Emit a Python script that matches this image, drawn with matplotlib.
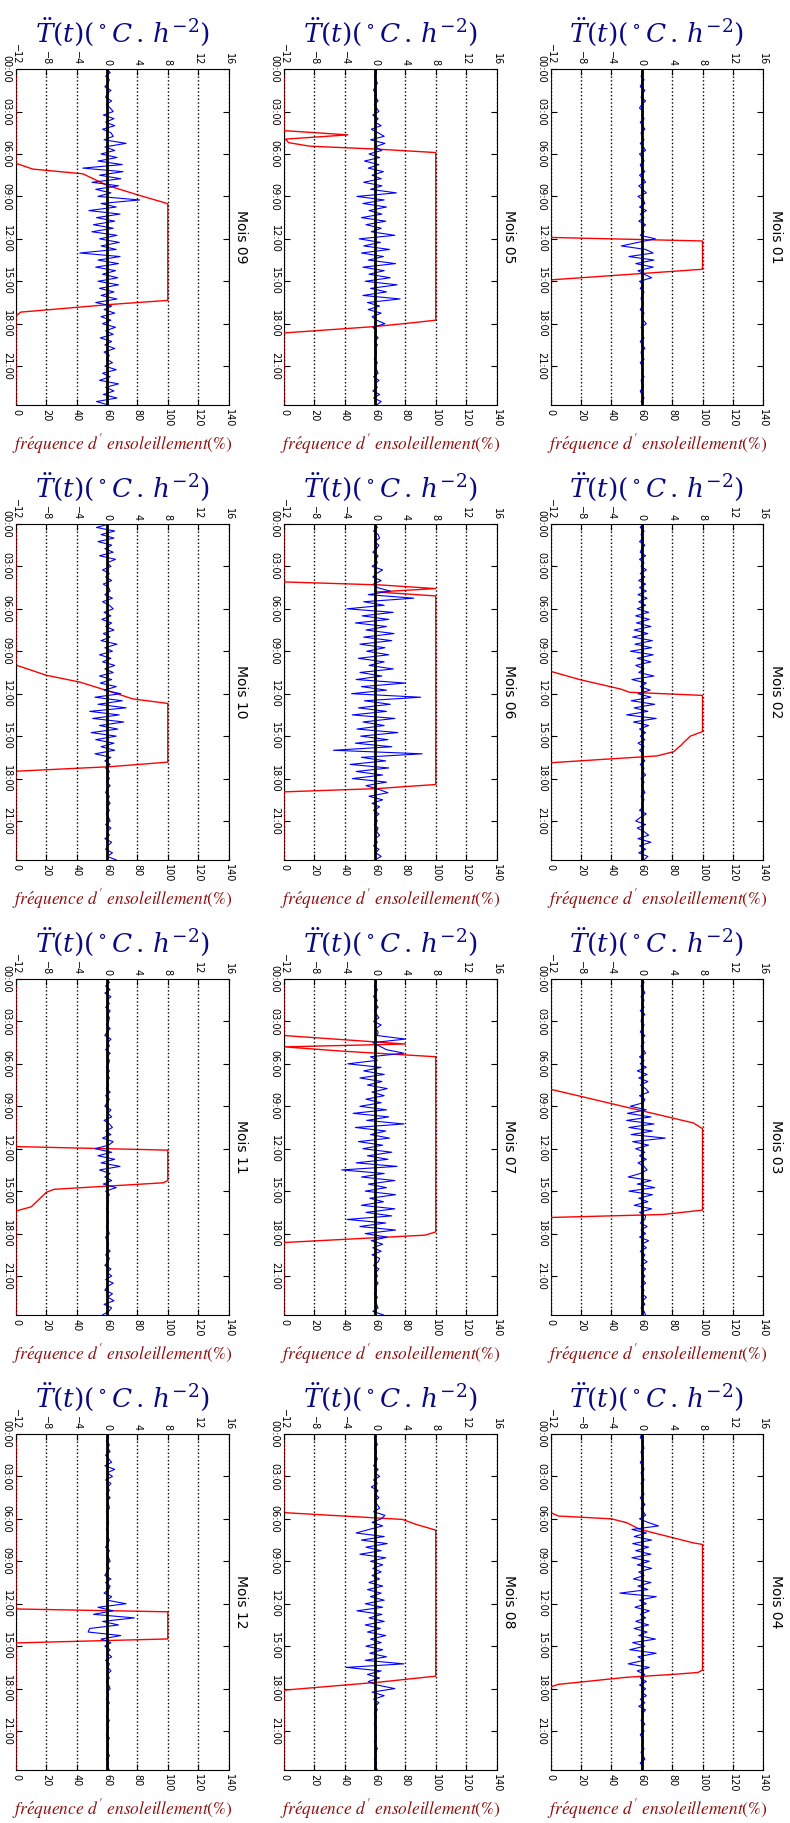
import matplotlib
matplotlib.use('Agg')
import matplotlib.pyplot as plt
import numpy as np

plt.rcParams['mathtext.fontset'] = 'dejavuserif'

T_END = 23.75
MONTHS = ['01', '02', '03', '04', '05', '06', '07', '08', '09', '10', '11', '12']
HOUR_TICKS = [0, 3, 6, 9, 12, 15, 18, 21]
HOUR_LABELS = ['00:00', '03:00', '06:00', '09:00', '12:00', '15:00', '18:00', '21:00']
FREQ_TICKS = [0, 20, 40, 60, 80, 100, 120, 140]
TDD_TICKS = [-12, -8, -4, 0, 4, 8, 12, 16]

# sunshine frequency (%), breakpoints (hour, value)
red_t_01 = [0, 11.9, 12.15, 14.15, 14.9, 23.75]
red_v_01 = [0, 0, 100, 100, 0, 0]
red_t_02 = [0, 10.42, 11.0, 11.67, 11.9, 12.12, 14.68, 15.0, 15.4, 15.63, 16.1, 16.4, 16.88, 23.75]
red_v_02 = [0, 0, 19, 46, 52, 100, 100, 92, 88, 86, 81, 70, 0, 0]
red_t_03 = [0, 7.8, 10.18, 10.58, 16.34, 16.65, 16.86, 23.75]
red_v_03 = [0, 0, 94, 100, 100, 74, 0, 0]
red_t_04 = [0, 5.56, 5.8, 6.0, 6.27, 6.75, 7.7, 7.81, 16.69, 16.86, 17.0, 17.2, 17.7, 17.88, 23.75]
red_v_04 = [0, 0, 5, 40, 50, 59, 94, 100, 100, 97, 80, 50, 5, 0, 0]
red_t_05 = [0, 4.35, 4.65, 4.95, 5.2, 5.45, 5.65, 5.9, 17.75, 17.95, 18.2, 18.65, 23.75]
red_v_05 = [0, 0, 42, 1, 3, 17, 60, 100, 100, 83, 60, 0, 0]
red_t_06 = [0, 4.1, 4.31, 4.57, 4.81, 5.09, 18.42, 18.71, 18.94, 23.75]
red_v_06 = [0, 0, 63, 100, 61, 100, 100, 61, 0, 0]
red_t_07 = [0, 4.0, 4.6, 4.8, 5.1, 5.5, 17.88, 18.11, 18.63, 23.75]
red_v_07 = [0, 0, 80, 0, 38, 100, 100, 93, 0, 0]
red_t_08 = [0, 5.56, 6.04, 6.39, 6.8, 17.12, 17.54, 18.11, 23.75]
red_v_08 = [0, 0, 78, 87, 100, 100, 63, 0, 0]
red_t_09 = [0, 6.66, 7.07, 7.4, 8.22, 8.92, 9.45, 9.53, 16.35, 16.64, 17.18, 17.46, 23.75]
red_v_09 = [0, 0, 11, 44, 60, 81, 98, 100, 100, 62, 3, 0, 0]
red_t_10 = [0, 9.98, 10.7, 11.18, 11.78, 12.37, 12.69, 16.84, 17.16, 17.48, 23.75]
red_v_10 = [0, 0, 20, 42, 60, 77, 100, 100, 62, 0, 0]
red_t_11 = [0, 11.85, 12.1, 14.25, 14.41, 14.87, 15.08, 16.11, 16.4, 23.75]
red_v_11 = [0, 0, 100, 100, 97, 25, 20, 10, 0, 0]
red_t_12 = [0, 12.37, 12.57, 14.49, 14.77, 23.75]
red_v_12 = [0, 0, 100, 100, 0, 0]

# second derivative of temperature, every 15 min
blue_01 = [0.0, 0.2, -0.1, 0.3, 0.0, -0.2, 0.4, 0.1, -0.1, 0.5, 0.0, -0.3,
           0.2, 0.0, 0.3, -0.2, 0.1, 0.4, -0.1, 0.0, 0.3, -0.2, 0.2, 0.5,
           -0.3, 0.1, 0.3, -0.2, 0.0, 0.4, -0.3, 0.2, 0.5, -0.4, 0.1, 0.6,
           -0.5, 0.2, 0.4, -0.3, 0.6, -0.2, 0.3, -0.4, 0.5, 0.0, 0.3, -0.2,
           1.8, -0.5, -2.7, 0.5, 1.5, -1.7, 1.6, -0.8, 1.5, -0.5, 0.3, 1.3,
           -0.3, 0.2, -0.2, 0.3, 0.0, -0.1, 0.2, 0.1, -0.2, 0.3, 0.0, 0.2,
           0.6, -0.1, 0.2, 0.0, 0.3, -0.2, 0.1, 0.4, -0.1, 0.0, 0.3, -0.2,
           0.1, 0.2, 0.0, 0.3, -0.1, 0.1, 0.2, -0.2, 0.0, 0.3, -0.1, 0.2]
blue_02 = [0.1, -0.2, 0.3, -0.1, 0.2, -0.3, 0.4, 0.0, -0.2, 0.5, -0.3, 0.3,
           -0.1, 0.6, -0.2, 0.4, -0.4, 0.5, -0.3, 0.6, -0.5, 0.7, -0.4, 0.5,
           -0.6, 0.9, -0.8, 1.0, -0.7, 1.2, -1.0, 0.8, -1.2, 1.4, -0.9, 1.3,
           -1.5, 1.5, -0.6, 1.2, -0.8, 0.3, -0.4, 1.6, -1.3, 0.6, -0.2, 1.1,
           -0.5, 1.2, -1.4, 1.7, -1.0, 0.8, -2.0, 1.9, -1.1, 0.9, -0.3, 0.5,
           -0.2, 0.4, -0.5, 0.3, -0.3, 0.2, 0.0, 0.4, -0.2, 0.3, 0.1, 0.5,
           -0.1, 0.3, 0.0, 0.2, 0.4, -0.1, 0.3, 0.0, 0.2, -0.3, 0.6, -0.2,
           -0.8, 0.5, -0.6, 0.3, 0.9, -0.5, 1.2, -0.3, 0.5, -0.4, 0.8, 0.3]
blue_03 = [0.0, 0.3, -0.1, 0.2, 0.4, -0.1, 0.3, 0.0, 0.3, -0.2, 0.4, 0.0,
           -0.1, 0.3, 0.1, -0.2, 0.4, 0.0, 0.3, -0.1, 0.2, 0.5, -0.3, 0.3,
           -0.2, 0.6, -0.6, 0.7, -0.4, 0.8, -0.2, 0.5, 0.9, -0.3, 0.4, 0.2,
           -1.5, 0.6, -1.9, 1.2, -2.0, 1.6, -1.7, 1.4, -1.4, 3.1, -1.2, 0.9,
           -0.8, 0.4, -0.3, 0.6, -0.5, 0.3, 0.7, -0.2, -1.8, 1.2, -0.6, 1.7,
           -1.7, 1.4, -0.4, 0.8, -1.0, 1.3, -0.3, 0.5, 0.4, -0.2, 0.7, -0.1,
           0.5, -0.3, 0.9, 0.0, 0.6, -0.2, 0.4, 0.1, 0.7, -0.1, 0.5, 0.0,
           0.4, 0.1, 0.5, -0.1, 0.3, 0.0, 0.6, 0.1, 0.4, -0.1, 0.3, 0.5]
blue_04 = [0.0, -0.2, 0.2, 0.1, 0.3, -0.1, 0.0, 0.2, -0.2, 0.1, 0.3, -0.1,
           0.1, 0.3, -0.1, 0.2, 0.0, 0.3, -0.2, 0.1, 0.4, -0.1, 0.2, 0.5,
           -0.3, 0.8, 2.2, -1.3, 0.6, -1.0, 1.3, -1.2, 0.9, -0.8, 1.2, -1.3,
           1.0, -0.6, 1.3, -0.4, 0.3, -1.1, 1.2, -0.5, 0.8, -2.9, 1.9, -0.3,
           0.6, -0.9, 1.0, -0.2, 0.5, -0.8, 0.9, -1.0, 0.7, -0.4, 1.8, -1.2,
           0.4, -1.6, 1.9, -0.5, 0.3, -1.8, 1.0, -0.6, 0.4, -0.2, 0.6, -0.3,
           0.5, 0.0, 0.6, -0.2, 0.4, -0.4, 0.5, 0.1, 0.2, -0.1, 0.4, 0.0,
           0.3, -0.2, 0.1, 0.2, 0.0, 0.3, -0.1, 0.2, 0.4, -0.2, 0.1, 0.0]
blue_05 = [0.0, 0.2, -0.1, 0.1, 0.3, 0.0, -0.2, 0.2, 0.1, 0.4, -0.1, 0.2,
           0.5, -0.3, 0.4, 0.0, 0.8, -0.5, 0.4, 1.2, -0.6, 1.3, 0.0, 0.9,
           -0.8, 0.6, -1.4, 0.5, -0.9, 1.1, -0.4, 0.8, -1.5, 0.9, -0.6, 2.8,
           -2.4, 1.2, -1.6, 1.5, -0.8, 0.9, -1.8, 1.4, -1.2, 0.8, -0.5, 2.6,
           -2.1, 0.7, -1.5, 1.9, -1.8, 1.1, -0.9, 2.7, -1.6, 1.2, -0.8, 2.0,
           -1.3, 2.9, -0.6, 1.5, -1.6, 3.3, -1.0, 0.6, -0.9, 0.8, -0.4, 0.2,
           1.3, -0.3, 0.2, 0.0, 0.4, -0.1, 0.3, 0.0, 0.2, 0.1, -0.1, 0.3,
           0.0, 0.2, 0.4, -0.2, 0.5, 0.0, 0.3, -0.3, 0.6, -0.2, 0.8, 0.2]
blue_06 = [0.0, 0.3, -0.2, 0.4, 0.6, -0.1, 0.5, 0.2, -0.3, 0.4, 0.1, 0.3,
           -0.4, 1.0, 0.2, -0.3, 0.8, -0.2, 0.3, 2.0, -0.9, 5.1, -1.5, 1.2,
           -3.7, 2.4, -1.7, 1.8, -2.6, 1.5, -1.2, 2.5, -1.5, 2.2, -2.0, 1.3,
           -1.1, 1.8, -2.2, 1.2, -0.8, 2.4, -2.0, 0.9, -2.5, 4.0, -1.8, 1.5,
           -3.1, 6.0, -1.4, 2.0, -2.2, 1.5, -3.0, 2.6, -1.6, 1.2, -2.4, 3.0,
           -1.9, 1.7, -2.6, 2.2, -5.5, 6.2, -1.8, 1.4, -3.3, 1.8, -2.5, 1.0,
           -3.0, 1.5, -1.2, 0.4, 1.7, -0.8, 1.0, -0.4, 0.6, -0.2, 0.5, 0.0,
           0.3, -0.1, 0.4, 0.2, 0.6, 0.0, 0.3, -0.2, 0.5, 0.1, 0.8, 0.0]
blue_07 = [0.0, 0.2, -0.1, 0.3, 0.1, -0.2, 0.3, 0.0, 0.4, -0.1, 0.2, 0.5,
           -0.2, 0.8, 0.1, 0.4, 0.3, 4.0, -0.3, 0.6, 1.5, 3.8, -0.6, 0.3,
           -3.6, 0.8, -1.5, 1.2, -2.0, 0.9, -1.0, 1.6, -0.4, 1.2, -1.2, 0.8,
           -2.0, 1.5, -2.9, 1.8, -1.1, 3.8, -2.6, 1.4, -0.6, 1.9, -2.2, 1.0,
           -1.6, 2.2, -1.0, 1.7, -2.5, 2.9, -4.4, 1.2, -1.8, 2.6, -0.9, 1.5,
           -1.3, 2.7, -0.7, 1.1, -1.8, 2.6, -1.2, 2.2, -3.7, 1.4, -2.0, 2.7,
           -1.3, 1.6, -0.5, 1.0, -0.3, 0.8, -0.4, 0.6, 0.4, -0.2, 0.5, 0.1,
           0.3, 0.0, 0.4, 0.1, 0.2, -0.1, 0.3, 0.0, 0.2, 0.4, -0.3, 1.1]
blue_08 = [0.2, -0.1, 0.1, 0.3, -0.1, 0.2, 0.0, 0.3, 0.1, -0.2, 0.4, 0.0,
           0.6, -0.2, 0.3, -0.5, 0.4, 0.0, 0.5, -0.1, 0.3, 0.6, -0.2, 1.3,
           0.8, -0.4, 1.0, -0.8, -2.5, 1.2, -1.8, 1.6, -1.2, 0.8, -2.0, 1.4,
           -0.6, 1.0, -0.3, 0.8, -0.4, 0.6, -0.8, 1.0, -1.0, 0.8, -0.6, 1.2,
           -1.3, 1.0, -2.4, 0.9, -0.8, 1.2, -1.3, 0.7, -1.0, 1.4, -0.6, 0.8,
           -1.2, 1.0, -0.7, 1.5, -1.3, 3.8, -3.8, 0.8, -1.0, 0.6, -0.9, 0.3,
           2.6, -0.4, 1.2, -0.2, 0.5, 0.0, 0.3, -0.1, 0.2, 0.0, -0.1, 0.2,
           0.0, 0.1, 0.2, -0.1, 0.1, 0.3, 0.0, 0.2, -0.1, 0.2, 0.0, 0.3]
blue_09 = [0.0, 0.4, -0.2, 0.3, 0.1, -0.3, 0.5, 0.0, -0.2, 0.6, -0.1, 0.4,
           0.8, -0.5, 0.9, -0.2, 1.0, -0.6, 0.5, 0.8, -0.4, 2.5, -0.3, 1.0,
           -0.8, 1.3, -1.2, 2.0, -3.2, 2.1, -1.0, 1.8, -2.0, 1.5, -1.5, 0.5,
           -1.2, 4.3, -0.8, 1.2, -2.4, 1.7, -1.4, 1.0, -1.8, 0.8, -2.0, 1.3,
           -1.0, 1.6, -0.8, 1.2, -3.6, 1.7, -1.2, 1.5, -1.5, 1.1, -0.6, 1.4,
           -1.2, 1.5, -1.0, 0.9, -0.8, 1.3, -1.5, 0.6, -0.4, 1.0, -0.8, 0.5,
           -0.6, 1.1, -0.2, 0.8, -0.9, 0.6, -0.3, 1.0, -0.4, 0.3, -0.1, 0.7,
           -0.3, 1.2, -0.6, 0.4, -1.0, 1.5, -0.2, 0.9, -0.5, 1.3, -1.4, 0.2]
blue_10 = [0.3, -1.4, 1.0, -0.8, 0.9, -1.2, 0.6, -0.3, 0.8, -1.0, 1.1, 0.0,
           0.5, -0.6, 0.3, -0.2, 0.6, -0.5, 0.2, 0.4, -0.3, 0.7, -0.6, 0.3,
           0.8, -0.4, 0.5, -0.7, 0.6, -0.2, 0.9, -0.5, 0.4, -0.8, 1.3, -0.3,
           0.7, -1.0, 0.5, -0.6, 1.0, -0.3, 0.8, -1.0, 0.6, -0.9, 1.2, -0.4,
           1.8, -1.6, 2.0, -1.2, 2.5, -2.3, 1.6, -1.9, 2.2, -1.0, 1.4, -2.1,
           1.2, -1.5, 0.9, -0.8, 1.0, -1.6, 0.5, -0.3, 0.4, -0.2, 0.3, 0.0,
           0.3, -0.1, 0.4, 0.0, -0.2, 0.3, 0.1, 0.4, 0.0, 0.3, -0.1, 0.2,
           0.4, -0.2, 0.5, 0.0, 0.3, -0.3, 0.6, 0.1, -0.2, 0.7, 0.0, 1.2]
blue_11 = [0.0, 0.3, -0.2, 0.4, -0.3, 0.5, 0.0, 0.3, -0.2, 0.4, 0.1, 0.3,
           0.2, -0.1, 0.4, 0.0, -0.3, 0.5, 0.1, 0.3, -0.2, 0.4, 0.0, 0.3,
           0.2, -0.1, 0.3, 0.0, 0.3, 0.0, 0.2, -0.1, 0.4, -0.2, 0.3, 0.0,
           -0.3, 0.5, 0.1, 0.6, -0.4, 0.3, 0.7, -0.2, 0.5, -0.6, 0.8, 0.2,
           -1.6, 0.6, -1.2, 1.0, -0.8, 1.7, -1.0, 0.4, -0.3, 0.6, -0.5, 1.2,
           -0.2, 0.3, 0.0, 0.2, 0.1, -0.1, 0.2, 0.0, 0.0, 0.2, -0.1, 0.1,
           0.3, -0.2, 0.0, 0.2, 0.0, 0.4, -0.2, 0.3, 0.1, -0.3, 0.5, 0.0,
           0.6, -0.2, 0.8, 0.0, -0.3, 0.7, 0.1, 0.9, -0.4, 0.6, 0.2, -0.6]
blue_12 = [0.0, 0.2, -0.1, 0.3, 0.1, 0.4, -0.2, 0.2, 0.6, -0.3, 1.0, 0.0,
           0.7, -0.2, 0.5, 0.1, 0.3, -0.1, 0.4, 0.0, 0.2, 0.3, -0.1, 0.1,
           0.0, 0.2, 0.1, -0.1, 0.2, 0.0, 0.3, 0.1, -0.2, 0.3, 0.0, 0.2,
           0.4, -0.1, 0.3, 0.0, -0.3, 0.5, -0.2, 0.4, 0.2, -0.4, 0.6, 0.0,
           2.5, -1.2, 0.8, -1.8, 3.6, -0.6, 1.5, -2.3, -2.5, 1.8, -0.8, 0.5,
           -0.3, 0.4, 0.0, 0.6, -0.2, 0.3, 0.1, 0.5, 0.0, 0.3, -0.1, 0.2,
           0.4, 0.0, 0.2, -0.1, 0.3, 0.0, 0.2, 0.1, -0.1, 0.3, 0.0, 0.2,
           0.1, -0.1, 0.3, 0.0, 0.2, 0.0, 0.1, 0.3, -0.1, 0.2, 0.0, 0.3]

red_times = [red_t_01, red_t_02, red_t_03, red_t_04, red_t_05, red_t_06,
             red_t_07, red_t_08, red_t_09, red_t_10, red_t_11, red_t_12]
red_values = [red_v_01, red_v_02, red_v_03, red_v_04, red_v_05, red_v_06,
              red_v_07, red_v_08, red_v_09, red_v_10, red_v_11, red_v_12]
blue_values = [blue_01, blue_02, blue_03, blue_04, blue_05, blue_06,
               blue_07, blue_08, blue_09, blue_10, blue_11, blue_12]

tdd_label = r'$\ddot{T}\left(t\right)\left(^\circ C\,.\,h^{-2}\right)$'
freq_label = r"$fr\acute{e}quence\ d'\ ensoleillement\left(\%\right)$"

col_left = [0.6971, 0.3595, 0.0203]
row_bottom = [0.7778, 0.5283, 0.2787, 0.0291]
W = 0.2690
H = 0.1843


def draw_panel(fig, rect, month, red_t, red_v, blue_v):
    ax = fig.add_axes(rect)
    ax.plot(red_v, red_t, color='red', lw=1, zorder=3)
    ax.set_xlim(0, 140)
    ax.set_xticks(FREQ_TICKS)
    ax.set_xticklabels([str(v) for v in FREQ_TICKS], rotation=-90, fontsize=7)
    ax.set_yticks(HOUR_TICKS)
    ax.set_yticklabels(HOUR_LABELS, rotation=-90, va='center', fontsize=7)
    ax.tick_params(direction='in', length=4, right=True, pad=3)
    ax.set_xlabel(freq_label, color='#8b1010', fontsize=12.5, labelpad=3,
                  math_fontfamily='stix')
    ax.text(1.025, 0.5, 'Mois ' + month, transform=ax.transAxes, rotation=-90,
            ha='left', va='center', fontsize=10)

    ax2 = ax.twiny()
    t = np.linspace(0, T_END, len(blue_v))
    ax2.plot(blue_v, t, color='blue', lw=0.8)
    ax2.axvline(0, color='black', lw=2)
    ax2.set_xlim(-12, 16)
    ax2.set_xticks(TDD_TICKS)
    ax2.set_xticklabels(['\u2212' + str(-v) if v < 0 else str(v) for v in TDD_TICKS],
                        rotation=-90, fontsize=7)
    ax2.tick_params(direction='in', length=4, pad=3)
    ax2.grid(axis='x', ls=':', color='black', lw=1)
    for s in ax2.spines.values():
        s.set_visible(False)
    ax2.set_xlabel(tdd_label, color='#0a0a80', fontsize=19, labelpad=2)
    ax.set_ylim(T_END, 0)


fig = plt.figure(figsize=(7.9, 18.23), dpi=100)
for i in range(12):
    col = i // 4
    row = i % 4
    rect = [col_left[col], row_bottom[row], W, H]
    draw_panel(fig, rect, MONTHS[i], red_times[i], red_values[i], blue_values[i])

fig.savefig('out.png', dpi=100)
